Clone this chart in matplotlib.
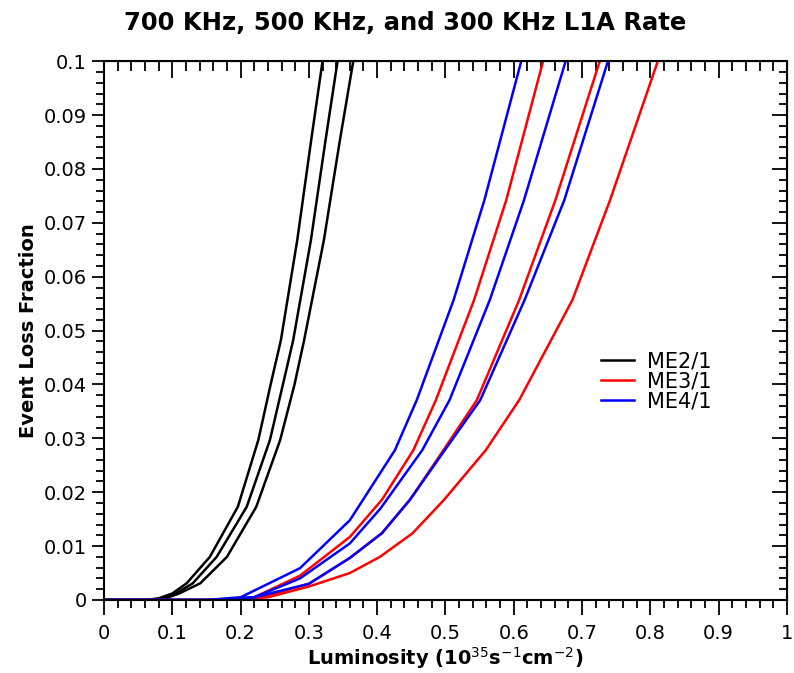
import matplotlib
matplotlib.use("Agg")
import matplotlib.pyplot as plt
from matplotlib.ticker import MultipleLocator, FormatStrFormatter

# ME2/1 curves (700, 500, 300 KHz)
me2_lum = [
    [0.0, 0.06, 0.08, 0.10, 0.121, 0.155, 0.196, 0.226, 0.244, 0.259, 0.283, 0.303, 0.320],
    [0.0, 0.065, 0.085, 0.105, 0.130, 0.165, 0.209, 0.243, 0.262, 0.277, 0.303, 0.324, 0.342],
    [0.0, 0.07, 0.09, 0.11, 0.141, 0.180, 0.223, 0.258, 0.279, 0.293, 0.322, 0.345, 0.365],
]
me2_frac = [0.0, 0.0, 0.0003, 0.0012, 0.0031, 0.008, 0.0173, 0.0297, 0.040, 0.0482, 0.0668, 0.085, 0.1]

# ME3/1 curves
me3_lum = [
    [0.0, 0.16, 0.22, 0.287, 0.36, 0.407, 0.453, 0.486, 0.542, 0.589, 0.643],
    [0.0, 0.17, 0.23, 0.30, 0.36, 0.407, 0.448, 0.497, 0.546, 0.608, 0.661, 0.726],
    [0.0, 0.18, 0.24, 0.30, 0.36, 0.404, 0.452, 0.498, 0.559, 0.608, 0.686, 0.741, 0.811],
]
me3_frac = [
    [0.0, 0.0, 0.0005, 0.0045, 0.0117, 0.0186, 0.0278, 0.0371, 0.0557, 0.0742, 0.1],
    [0.0, 0.0, 0.0005, 0.003, 0.0078, 0.0124, 0.0186, 0.0278, 0.0371, 0.0557, 0.0742, 0.1],
    [0.0, 0.0, 0.0005, 0.0025, 0.005, 0.008, 0.0124, 0.0186, 0.0278, 0.0371, 0.0557, 0.0742, 0.1],
]

# ME4/1 curves
me4_lum = [
    [0.0, 0.15, 0.20, 0.287, 0.36, 0.426, 0.458, 0.512, 0.557, 0.611],
    [0.0, 0.16, 0.22, 0.287, 0.36, 0.405, 0.466, 0.506, 0.565, 0.615, 0.676],
    [0.0, 0.16, 0.22, 0.30, 0.36, 0.407, 0.448, 0.499, 0.551, 0.616, 0.674, 0.738],
]
me4_frac = [
    [0.0, 0.0, 0.0005, 0.0059, 0.0148, 0.0278, 0.0371, 0.0557, 0.0742, 0.1],
    [0.0, 0.0, 0.0005, 0.004, 0.0105, 0.017, 0.0278, 0.0371, 0.0557, 0.0742, 0.1],
    [0.0, 0.0, 0.0005, 0.003, 0.0078, 0.0124, 0.0186, 0.0278, 0.0371, 0.0557, 0.0742, 0.1],
]

labels = ["ME2/1", "ME3/1", "ME4/1"]
colors = ["black", "red", "blue"]

fig = plt.figure(figsize=(7.94, 6.73), dpi=100)
ax = fig.add_axes([0.131, 0.1085, 0.86, 0.8005])

lw = 1.8
for i, l in enumerate(me2_lum):
    ax.plot(l, me2_frac, color=colors[0], lw=lw, label=labels[0] if i == 0 else None)
for i, l in enumerate(me3_lum):
    ax.plot(l, me3_frac[i], color=colors[1], lw=lw, label=labels[1] if i == 0 else None)
for i, l in enumerate(me4_lum):
    ax.plot(l, me4_frac[i], color=colors[2], lw=lw, label=labels[2] if i == 0 else None)

ax.set_xlim(0, 1)
ax.set_ylim(0, 0.1)
ax.xaxis.set_major_locator(MultipleLocator(0.1))
ax.xaxis.set_minor_locator(MultipleLocator(0.02))
ax.yaxis.set_major_locator(MultipleLocator(0.01))
ax.yaxis.set_minor_locator(MultipleLocator(0.002))
ax.xaxis.set_major_formatter(FormatStrFormatter("%g"))
ax.yaxis.set_major_formatter(FormatStrFormatter("%g"))

for s in ax.spines.values():
    s.set_linewidth(1.5)

ax.tick_params(axis="x", which="both", direction="out", bottom=True, top=False,
               labelsize=14, width=1.3, pad=6)
ax.tick_params(axis="x", which="major", length=11)
ax.tick_params(axis="x", which="minor", length=6)
ax.tick_params(axis="y", which="both", direction="out", left=True, right=False,
               labelsize=14, width=1.3)
ax.tick_params(axis="y", which="major", length=9)
ax.tick_params(axis="y", which="minor", length=6)

# inward ticks on the top and right edges
top = ax.secondary_xaxis("top")
top.set_xticks([0.1 * i for i in range(11)])
top.xaxis.set_minor_locator(MultipleLocator(0.02))
top.tick_params(which="both", direction="in", labeltop=False, width=1.3)
top.tick_params(which="major", length=12)
top.tick_params(which="minor", length=7)
right = ax.secondary_yaxis("right")
right.yaxis.set_major_locator(MultipleLocator(0.01))
right.yaxis.set_minor_locator(MultipleLocator(0.002))
right.tick_params(which="both", direction="in", labelright=False, width=1.3)
right.tick_params(which="major", length=11)
right.tick_params(which="minor", length=6)

ax.set_xlabel("Luminosity (10$^{35}$s$^{-1}$cm$^{-2}$)", fontsize=14, fontweight="bold",
              labelpad=2)
ax.set_ylabel("Event Loss Fraction", fontsize=14, fontweight="bold")
fig.suptitle("700 KHz, 500 KHz, and 300 KHz L1A Rate", x=0.51, y=0.983, fontsize=17.5,
             fontweight="bold")

ax.legend(loc="center left", bbox_to_anchor=(0.70, 0.405), frameon=False, fontsize=15,
          handlelength=1.6, handletextpad=0.6, labelspacing=0.0)

fig.savefig("out.png", dpi=100)
